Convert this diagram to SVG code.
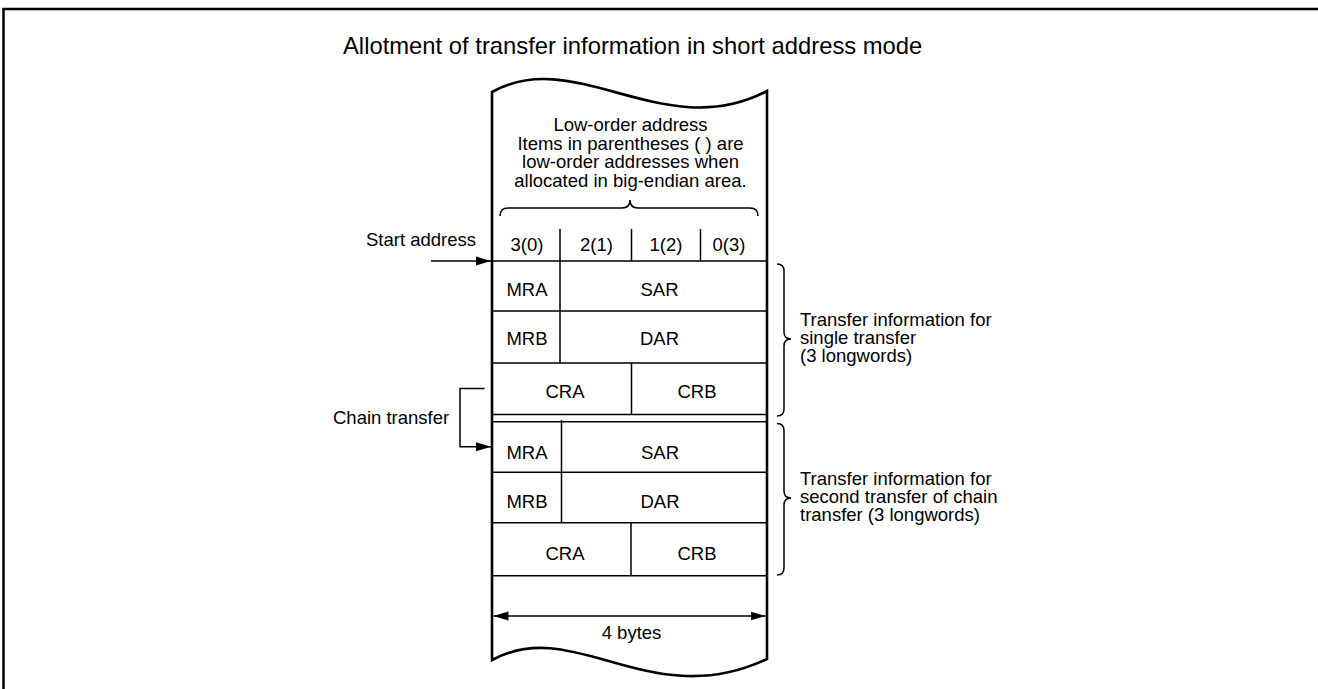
<svg xmlns="http://www.w3.org/2000/svg" width="1318" height="689" viewBox="0 0 1318 689">
  <style>
    text { font-family: "Liberation Sans", Arial, Helvetica, sans-serif; font-size: 18.5px; fill: #000; }
    .title { font-size: 23.8px; }
    .c { text-anchor: middle; }
    .r { text-anchor: end; }
    .frame { fill: none; stroke: #000; stroke-width: 2.5; }
    .outline { fill: none; stroke: #000; stroke-width: 2.6; stroke-linejoin: miter; }
    .cell { fill: none; stroke: #000; stroke-width: 1.5; }
    .brace { fill: none; stroke: #000; stroke-width: 1.5; }
    .link { fill: none; stroke: #000; stroke-width: 1.5; }
  </style>
  <defs>
    <marker id="arrow" viewBox="0 0 15 10" refX="15" refY="5" markerWidth="15" markerHeight="10" markerUnits="userSpaceOnUse" orient="auto-start-reverse">
      <path d="M0,0.5 L15,5 L0,9.5 Z" fill="#000"/>
    </marker>
  </defs>

  <rect width="1318" height="689" fill="#fff"/>

  <!-- page frame -->
  <path class="frame" d="M3.5,689 L3.5,9 L1318,9"/>

  <g id="title">
    <text class="title" x="343" y="54">Allotment of transfer information in short address mode</text>
  </g>

  <!-- memory strip with torn top and bottom edges -->
  <g id="memory-strip">
    <path class="outline" d="M492,660 L492,92 C575,45 665,145 767,91 L767,659 C650,714 575,615 492,660 Z"/>
  </g>

  <g id="byte-note">
    <text class="c" x="630.5" y="131">Low-order address</text>
    <text class="c" x="630.5" y="149.5">Items in parentheses ( ) are</text>
    <text class="c" x="630.5" y="168">low-order addresses when</text>
    <text class="c" x="630.5" y="186.5">allocated in big-endian area.</text>
    <path class="brace" d="M500,216 Q500,208 508,208 L622,208 Q630,208 630,200 Q630,208 638,208 L750,208 Q758,208 758,216"/>
  </g>

  <g id="byte-header">
    <path class="cell" d="M560,229 L560,261 M631.5,229 L631.5,261 M700.5,229 L700.5,261"/>
    <text class="c" x="527" y="251">3(0)</text>
    <text class="c" x="596.5" y="251">2(1)</text>
    <text class="c" x="666" y="251">1(2)</text>
    <text class="c" x="729" y="251">0(3)</text>
  </g>

  <g id="single-transfer">
    <path class="cell" d="M492,261 L767,261 M492,311 L767,311 M492,363 L767,363 M492,414.5 L767,414.5 M560,261 L560,363 M631.5,363 L631.5,414.5"/>
    <text class="c" x="527" y="296">MRA</text>
    <text class="c" x="659.5" y="296">SAR</text>
    <text class="c" x="527" y="345">MRB</text>
    <text class="c" x="659.5" y="345">DAR</text>
    <text class="c" x="565" y="398">CRA</text>
    <text class="c" x="697" y="398">CRB</text>
  </g>

  <g id="chain-transfer">
    <path class="cell" d="M492,421.7 L767,421.7 M492,472.3 L767,472.3 M492,522.7 L767,522.7 M492,575.7 L767,575.7 M561.5,420 L561.5,522.7 M631,522.7 L631,575.7"/>
    <text class="c" x="527" y="458.5">MRA</text>
    <text class="c" x="660" y="458.5">SAR</text>
    <text class="c" x="527" y="507.5">MRB</text>
    <text class="c" x="660" y="507.5">DAR</text>
    <text class="c" x="565" y="560">CRA</text>
    <text class="c" x="697" y="560">CRB</text>
  </g>

  <g id="single-transfer-note">
    <path class="brace" d="M777,264 Q784,264 784,271 L784,332 Q784,339 791,339 Q784,339 784,346 L784,409 Q784,416 777,416"/>
    <text x="800" y="326">Transfer information for</text>
    <text x="800" y="344">single transfer</text>
    <text x="800" y="362">(3 longwords)</text>
  </g>

  <g id="chain-transfer-note">
    <path class="brace" d="M777,423.5 Q784,423.5 784,430.5 L784,491 Q784,498 791,498 Q784,498 784,505 L784,568 Q784,575 777,575"/>
    <text x="800" y="485">Transfer information for</text>
    <text x="800" y="503">second transfer of chain</text>
    <text x="800" y="521">transfer (3 longwords)</text>
  </g>

  <g id="start-label">
    <text class="r" x="476" y="246">Start address</text>
  </g>

  <g id="chain-label">
    <text x="333" y="424">Chain transfer</text>
  </g>

  <g id="width-label">
    <text class="c" x="631.5" y="638.5">4 bytes</text>
  </g>

  <g id="connectors">
    <path class="link" d="M431,261 L491,261" marker-end="url(#arrow)"/>
    <path class="link" d="M484.5,388.5 L460,388.5 L460,446.7 L491,446.7" marker-end="url(#arrow)"/>
    <path class="link" d="M493.5,616 L765.5,616" marker-start="url(#arrow)" marker-end="url(#arrow)"/>
  </g>
</svg>
